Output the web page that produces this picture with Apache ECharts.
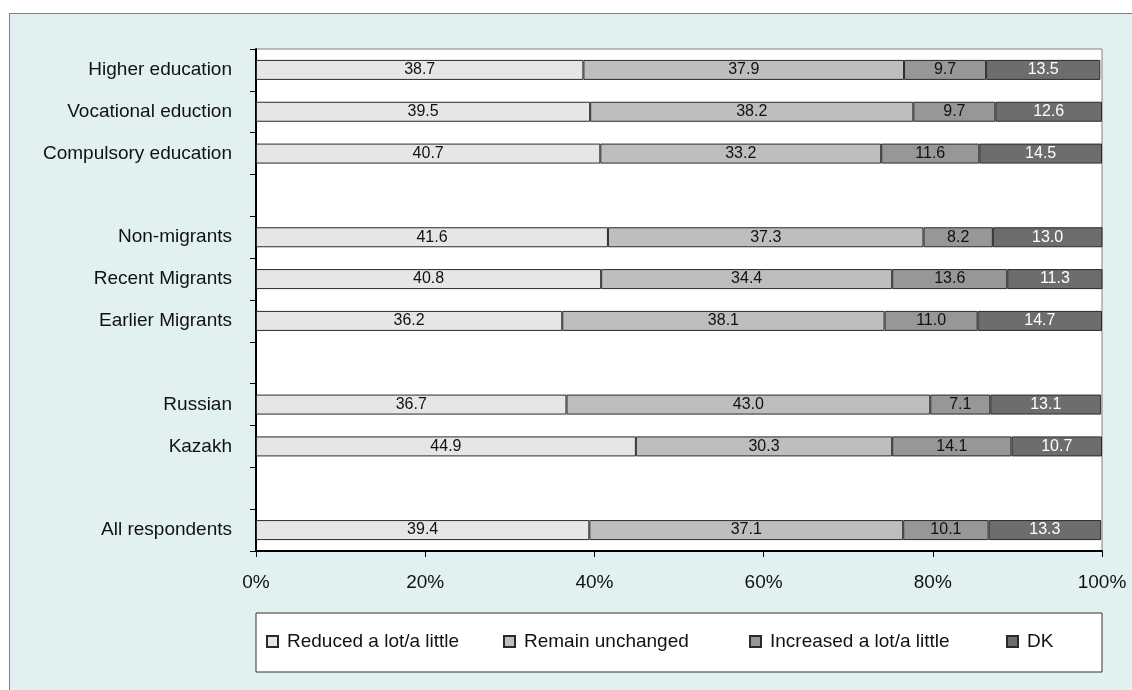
<!DOCTYPE html>
<html>
<head>
<meta charset="utf-8">
<script src="https://cdn.jsdelivr.net/npm/echarts@6/dist/echarts.min.js"></script>
<style>
  html, body { margin: 0; padding: 0; background: #ffffff; width: 1132px; height: 690px; overflow: hidden; }
  #frame { position: absolute; left: 9px; top: 13px; width: 1200px; height: 800px; background: #e1f1f1; border: 1px solid #808080; box-sizing: border-box; }
  #chart { position: absolute; left: 0; top: 0; width: 1132px; height: 690px; }
</style>
</head>
<body>
<div id="frame"></div>
<div id="chart"></div>
<script>
const categories = [
  'Higher education', 'Vocational eduction', 'Compulsory education', ' ',
  'Non-migrants', 'Recent Migrants', 'Earlier Migrants', '  ',
  'Russian', 'Kazakh', '   ', 'All respondents'
];
const seriesNames = ['Reduced a lot/a little', 'Remain unchanged', 'Increased a lot/a little', 'DK'];
const reduced   = [38.7, 39.5, 40.7, null, 41.6, 40.8, 36.2, null, 36.7, 44.9, null, 39.4];
const unchanged = [37.9, 38.2, 33.2, null, 37.3, 34.4, 38.1, null, 43.0, 30.3, null, 37.1];
const increased = [9.7, 9.7, 11.6, null, 8.2, 13.6, 11.0, null, 7.1, 14.1, null, 10.1];
const dk        = [13.5, 12.6, 14.5, null, 13.0, 11.3, 14.7, null, 13.1, 10.7, null, 13.3];
const xTicks = { min: 0, max: 100, interval: 20 };

const colors = ['#e6e6e6', '#bebebe', '#979797', '#6d6d6d'];
const labelColors = ['#111111', '#111111', '#111111', '#ffffff'];
const values = [reduced, unchanged, increased, dk];
const FONT = '"Liberation Sans", Arial, sans-serif';

const chart = echarts.init(document.getElementById('chart'), null, { renderer: 'canvas' });

const series = seriesNames.map((name, i) => ({
  name: name,
  type: 'bar',
  stack: 'total',
  barWidth: 20,
  data: values[i],
  itemStyle: { color: colors[i], borderColor: '#2a2a2a', borderWidth: 1 },
  label: {
    show: true,
    position: 'inside',
    fontFamily: FONT,
    fontSize: 16,
    color: labelColors[i],
    formatter: p => (p.value == null ? '' : Number(p.value).toFixed(1))
  },
  emphasis: { disabled: true },
  animation: false
}));

const legendLefts = [266, 503, 749, 1006];
const legends = seriesNames.map((name, i) => ({
  data: [name],
  left: legendLefts[i],
  top: 632,
  itemWidth: 11,
  itemHeight: 11,
  icon: 'rect',
  padding: 0,
  textStyle: { fontFamily: FONT, fontSize: 19, color: '#111111', padding: [0, 0, 0, 4] },
  selectedMode: false
}));

chart.setOption({
  backgroundColor: 'transparent',
  animation: false,
  textStyle: { fontFamily: FONT },
  grid: {
    left: 256, top: 49, right: 30, bottom: 139,
    show: true, backgroundColor: '#ffffff', borderColor: '#808080', borderWidth: 1,
    containLabel: false
  },
  graphic: [{
    type: 'rect',
    shape: { x: 256, y: 613, width: 846, height: 59 },
    style: { fill: '#ffffff', stroke: '#333333', lineWidth: 1 },
    z: -10,
    silent: true
  }],
  legend: legends,
  xAxis: {
    type: 'value',
    min: xTicks.min, max: xTicks.max, interval: xTicks.interval,
    axisLine: { show: true, lineStyle: { color: '#000000', width: 2 } },
    axisTick: { show: true, length: 6, lineStyle: { color: '#000000', width: 1 } },
    axisLabel: { formatter: '{value}%', fontFamily: FONT, fontSize: 19, color: '#111111', margin: 22 },
    splitLine: { show: false }
  },
  yAxis: {
    type: 'category',
    inverse: true,
    data: categories,
    axisLine: { show: true, lineStyle: { color: '#000000', width: 2 } },
    axisTick: { show: true, length: 6, alignWithLabel: false, lineStyle: { color: '#000000', width: 1 } },
    axisLabel: { fontFamily: FONT, fontSize: 19, color: '#111111', margin: 24, interval: 0 },
    splitLine: { show: false }
  },
  series: series
});
</script>
</body>
</html>
